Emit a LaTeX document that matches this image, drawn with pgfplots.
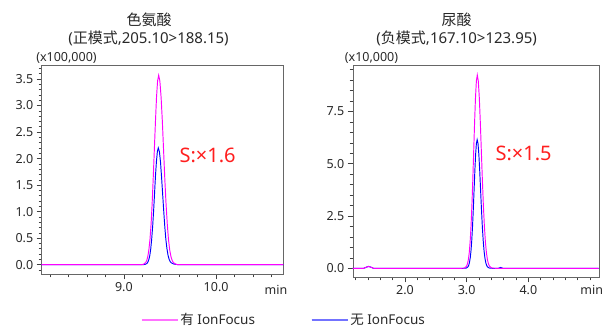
\documentclass[border=0pt]{standalone}
\usepackage{pgfplots}
\pgfplotsset{compat=1.18}
\usepackage{fontspec}
\setmainfont{Noto Sans}
\newfontfamily\cjk{Noto Sans CJK SC}
\definecolor{mag}{RGB}{255,0,255}
\definecolor{blu}{RGB}{0,0,255}
\definecolor{txt}{RGB}{40,40,40}
\pgfplotsset{chrom/.style={
  scale only axis,
  axis line style={black!60},
  tick align=outside,
  xtick pos=bottom, ytick pos=left,
  major tick length=5pt, minor tick length=3pt,
  tick style={black!75, line width=0.6pt},
  every tick label/.append style={font=\fontsize{12.5}{14}\selectfont, text=txt},
  /pgf/number format/fixed, /pgf/number format/fixed zerofill,
  /pgf/number format/precision=1, /pgf/number format/assume math mode=true,
  scaled ticks=false,
  clip=true,
  every axis plot/.append style={line width=0.95pt},
}}
\begin{document}
\begin{tikzpicture}
\useasboundingbox (0pt,0pt) rectangle (605pt,329pt);
% ---------- left panel ----------
\begin{axis}[chrom,
  at={(41.7pt,54.7pt)}, anchor=south west,
  width=241.6pt, height=209.3pt,
  xmin=8.109, xmax=10.728, ymin=-0.181, ymax=3.764,
  xtick={9,10}, minor xtick={8.2,8.4,8.6,8.8,9.2,9.4,9.6,9.8,10.2,10.4,10.6},
  ytick={0,0.5,1,1.5,2,2.5,3,3.5}, minor ytick={-0.1,0.1,0.2,0.3,0.4,0.6,0.7,0.8,0.9,1.1,1.2,1.3,1.4,1.6,1.7,1.8,1.9,2.1,2.2,2.3,2.4,2.6,2.7,2.8,2.9,3.1,3.2,3.3,3.4,3.6,3.7},
  legend style={at={(1.003,-0.218)}, anchor=center, draw=none, fill=none,
    font=\fontsize{13.5}{15}\selectfont, text=txt, legend columns=2,
    /tikz/every even column/.append style={column sep=54pt}},
  legend image code/.code={\draw[#1] (0pt,0pt) -- (29pt,0pt); \path (0pt,0pt) -- (36pt,0pt);},
]
\addlegendimage{mag!55, line width=1.3pt}
\addlegendentry{{\cjk 有} IonFocus}
\addlegendimage{blu!55, line width=1.3pt}
\addlegendentry{{\cjk 无} IonFocus}
\addplot[blu, forget plot] coordinates {
(8.10,0) (9.15,0) (9.209,0.001) (9.2295,0.005) (9.250,0.024) (9.260,0.050) (9.2705,0.097)
(9.281,0.175) (9.291,0.298) (9.301,0.476) (9.3115,0.714) (9.322,1.007) (9.332,1.334)
(9.342,1.661) (9.3525,1.942) (9.363,2.132) (9.373,2.2) (9.385,2.132) (9.3965,1.942)
(9.408,1.661) (9.420,1.334) (9.432,1.007) (9.4435,0.714) (9.455,0.476) (9.467,0.298)
(9.479,0.175) (9.4905,0.100) (9.502,0.058) (9.514,0.035) (9.5375,0.015) (9.561,0.006)
(9.585,0.002) (9.62,0) (10.75,0)};
\addplot[mag, forget plot] coordinates {
(8.10,0) (9.15,0) (9.189,0.001) (9.2125,0.008) (9.236,0.040) (9.248,0.081) (9.2595,0.157)
(9.271,0.284) (9.283,0.483) (9.295,0.772) (9.3065,1.159) (9.318,1.634) (9.330,2.165)
(9.342,2.695) (9.3535,3.151) (9.365,3.460) (9.377,3.57) (9.390,3.460) (9.4035,3.151)
(9.417,2.695) (9.430,2.165) (9.443,1.634) (9.4565,1.159) (9.470,0.772) (9.483,0.483)
(9.496,0.284) (9.5095,0.157) (9.523,0.081) (9.536,0.040) (9.5625,0.008) (9.589,0.001)
(9.65,0) (10.75,0)};
\end{axis}
% ---------- right panel ----------
\begin{axis}[chrom,
  at={(352.7pt,51.7pt)}, anchor=south west,
  width=246pt, height=212.3pt,
  xmin=1.152, xmax=5.141, ymin=-0.43, ymax=9.72,
  xtick={2,3,4}, minor xtick={1.2,1.4,1.6,1.8,2.2,2.4,2.6,2.8,3.2,3.4,3.6,3.8,4.2,4.4,4.6,4.8,5.0},
  ytick={0,2.5,5,7.5}, minor ytick={0.5,1,1.5,2,3,3.5,4,4.5,5.5,6,6.5,7,8,8.5,9,9.5},
]
\addplot[blu] coordinates {
(1.10,0) (1.33,0) (1.37,0.05) (1.41,0.09) (1.45,0.05) (1.49,0) (2.90,0)
(2.970,0.002) (2.995,0.014) (3.020,0.068) (3.0325,0.140) (3.045,0.270) (3.0575,0.490)
(3.070,0.832) (3.0825,1.330) (3.095,1.997) (3.1075,2.815) (3.120,3.730) (3.1325,4.642)
(3.145,5.427) (3.1575,5.961) (3.170,6.15) (3.184,5.961) (3.198,5.427) (3.212,4.642)
(3.226,3.730) (3.240,2.815) (3.254,1.997) (3.268,1.330) (3.282,0.832) (3.296,0.490)
(3.310,0.270) (3.324,0.140) (3.338,0.068) (3.366,0.014) (3.394,0.002) (3.45,0)
(3.51,0) (3.55,0.04) (3.59,0) (5.20,0)};
\addplot[mag] coordinates {
(1.10,0) (1.33,0) (1.37,0.05) (1.41,0.09) (1.45,0.05) (1.49,0) (2.90,0)
(2.940,0.003) (2.969,0.020) (2.998,0.103) (3.0125,0.211) (3.027,0.406) (3.0415,0.736)
(3.056,1.250) (3.0705,1.999) (3.085,3.000) (3.0995,4.230) (3.114,5.604) (3.1285,6.974)
(3.143,8.154) (3.1575,8.955) (3.172,9.24) (3.1885,8.955) (3.205,8.154) (3.2215,6.974)
(3.238,5.604) (3.2545,4.230) (3.271,3.000) (3.2875,1.999) (3.304,1.250) (3.3205,0.736)
(3.337,0.406) (3.3535,0.211) (3.370,0.103) (3.403,0.020) (3.436,0.003) (3.48,0) (5.20,0)};
\end{axis}
% ---------- texts ----------
\node[text=txt, font=\fontsize{15}{17}\selectfont] at (149pt,309.5pt) {\cjk 色氨酸};
\node[text=txt, font=\fontsize{15}{17}\selectfont] at (148.5pt,290.5pt) {({\cjk 正模式},205.10>188.15)};
\node[text=txt, font=\fontsize{15}{17}\selectfont] at (456.7pt,309.5pt) {\cjk 尿酸};
\node[text=txt, font=\fontsize{15}{17}\selectfont] at (456.7pt,290.5pt) {({\cjk 负模式},167.10>123.95)};
\node[text=txt, font=\fontsize{12.5}{14}\selectfont] at (66.5pt,271pt) {(x100,000)};
\node[text=txt, font=\fontsize{12.5}{14}\selectfont] at (371.5pt,271pt) {(x10,000)};
\node[text=txt, font=\fontsize{12.5}{14}\selectfont] at (276pt,39pt) {min};
\node[text=txt, font=\fontsize{12.5}{14}\selectfont] at (591.7pt,39pt) {min};
\node[text={rgb,255:red,255;green,30;blue,30}, font=\fontsize{20}{22}\selectfont, anchor=west] at (176pt,174pt) {S:×1.6};
\node[text={rgb,255:red,255;green,30;blue,30}, font=\fontsize{20}{22}\selectfont, anchor=west] at (492pt,176pt) {S:×1.5};
\end{tikzpicture}
\end{document}
